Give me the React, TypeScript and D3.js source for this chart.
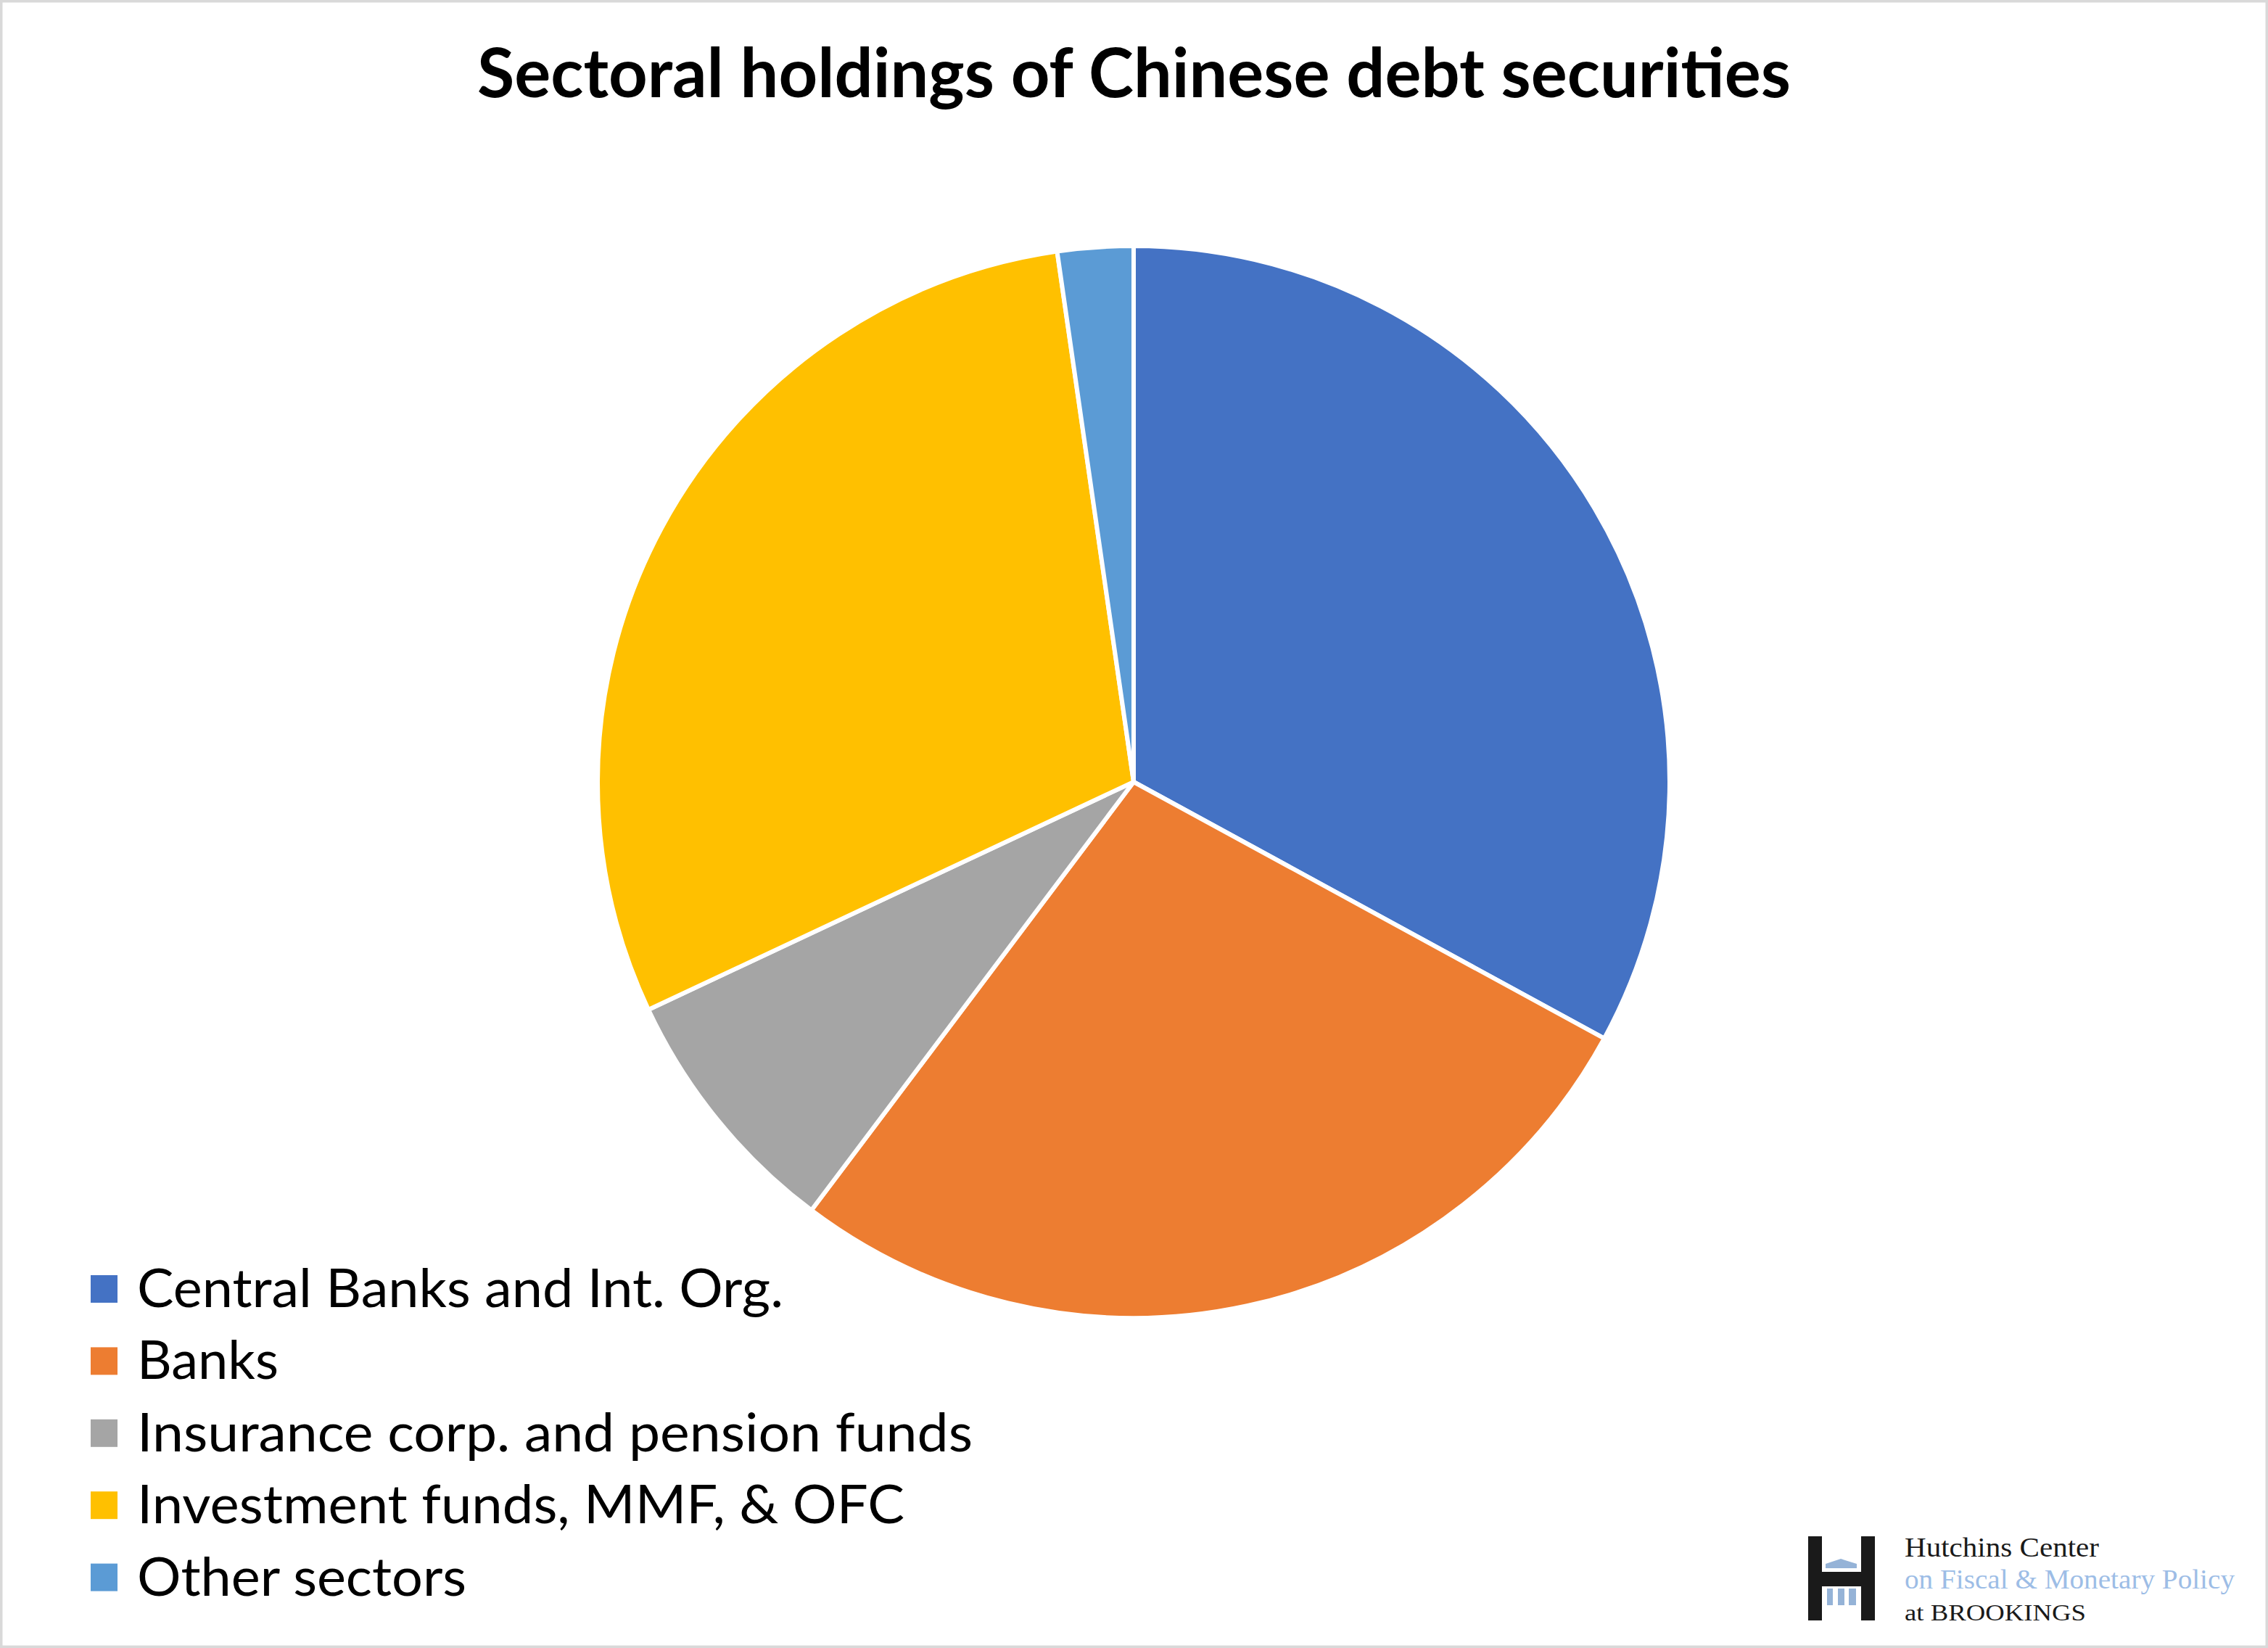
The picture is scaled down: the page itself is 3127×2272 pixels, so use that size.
import React from "react";
import * as d3 from "d3";

const categories = [
  "Central Banks and Int. Org.",
  "Banks",
  "Insurance corp. and pension funds",
  "Investment funds, MMF, & OFC",
  "Other sectors",
];
const values = [32.94, 27.32, 7.75, 29.7, 2.28];
const colors = ["#4472C4", "#ED7D31", "#A5A5A5", "#FFC000", "#5B9BD5"];
const legendWidths = [891, 195, 1152, 1058, 454];

const W = 3127;
const H = 2272;

export default function App() {
  const cx = 1563;
  const cy = 1078;
  const r = 739;
  const pie = d3.pie<number>().sort(null).value((d) => d);
  const arcs = pie(values);
  const arc = d3.arc<d3.PieArcDatum<number>>().innerRadius(0).outerRadius(r);

  const legendY = d3.scaleBand<number>().domain(d3.range(categories.length)).range([1752, 2249]);

  return (
    <svg
      width={W}
      height={H}
      style={{ position: "absolute", left: 0, top: 0, display: "block", background: "#fff" }}
    >
      <rect x={1.5} y={1.5} width={W - 3} height={H - 3} fill="#fff" stroke="#d9d9d9" strokeWidth={4} />
      <text
        x={658}
        y={134}
        fontFamily="Lato, 'Open Sans', sans-serif"
        fontWeight={700}
        fontSize={94}
        textLength={1811}
        lengthAdjust="spacingAndGlyphs"
        fill="#000"
      >
        Sectoral holdings of Chinese debt securities
      </text>
      <g transform={`translate(${cx},${cy})`}>
        {arcs.map((a, i) => (
          <path key={i} d={arc(a) || ""} fill={colors[i]} stroke="#fff" strokeWidth={6} strokeLinejoin="round" />
        ))}
      </g>
      <g>
        {categories.map((c, i) => {
          const y0 = legendY(i)!;
          const base = y0 + 50;
          return (
            <g key={c}>
              <rect x={125} y={base - 44} width={37} height={38} fill={colors[i]} />
              <text
                x={189}
                y={base}
                fontFamily="Lato, 'Open Sans', sans-serif"
                fontSize={73}
                textLength={legendWidths[i]}
                lengthAdjust="spacingAndGlyphs"
                fill="#000"
              >
                {c}
              </text>
            </g>
          );
        })}
      </g>
      <g>
        <rect x={2493} y={2118} width={19} height={116} fill="#1a1a1a" />
        <rect x={2566} y={2118} width={19} height={116} fill="#1a1a1a" />
        <rect x={2512} y={2167} width={54} height={20} fill="#1a1a1a" />
        <polygon points="2517,2162 2560,2162 2560,2156 2538,2149 2517,2156" fill="#95b3d7" />
        <rect x={2519} y={2190} width={8} height={23} fill="#95b3d7" />
        <rect x={2534} y={2190} width={9} height={23} fill="#95b3d7" />
        <rect x={2549} y={2190} width={10} height={23} fill="#95b3d7" />
        <text x={2626} y={2146} fontFamily="'Liberation Serif', serif" fontSize={38} textLength={268} lengthAdjust="spacingAndGlyphs" fill="#1a1a1a">
          Hutchins Center
        </text>
        <text x={2626} y={2190} fontFamily="'Liberation Serif', serif" fontSize={38} textLength={455} lengthAdjust="spacingAndGlyphs" fill="#9dbde6">
          on Fiscal &amp; Monetary Policy
        </text>
        <text x={2626} y={2234} fontFamily="'Liberation Serif', serif" fontSize={32} textLength={250} lengthAdjust="spacingAndGlyphs" fill="#1a1a1a">
          at BROOKINGS
        </text>
      </g>
    </svg>
  );
}
